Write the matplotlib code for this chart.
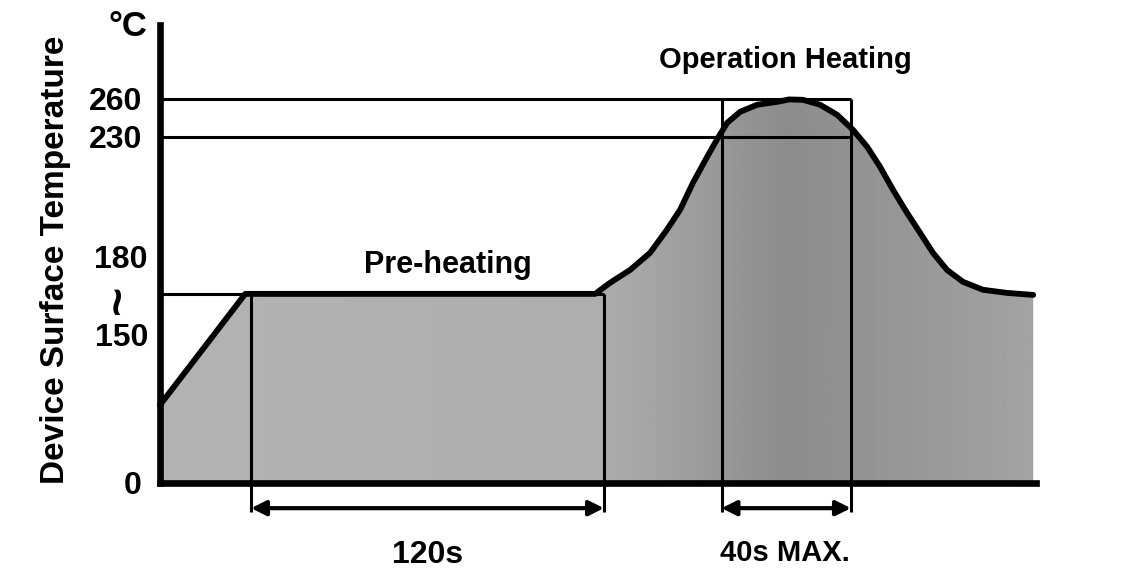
import numpy as np
import matplotlib.pyplot as plt
from matplotlib.scale import FuncScale

# reflow profile (time in s, temperature in degC)
time_s = [0, 29, 148, 153.1, 159.9, 166.7, 172.4, 176.9, 181.3, 186.1, 189.5,
          192.9, 197.3, 203.1, 209.9, 214, 218.7, 224.5, 230.3, 235.7, 240.5,
          244.9, 249.3, 254.1, 258.5, 262.9, 267.7, 273.1, 279.9, 288.1, 297]
temp_c = [68, 165, 165, 169.6, 174.9, 182, 191.5, 199.8, 211, 221.7, 229,
          241, 249.7, 255.3, 257.6, 259.5, 259.2, 255.3, 247.4, 235.5, 225.9,
          217.6, 208.1, 198.5, 190.3, 182, 174.9, 170, 166.7, 165.4, 164.1]

preheat_level = 165
preheat_window = [31, 151]
peak_window = [191, 235]
ref_temps = [230, 260]
tick_labels = ["0", "230", "260"]

# schematic (non-linear) temperature axis of the drawing
knots_t = [-90, 0, 165, 230, 260, 340]
knots_h = [-103.1, 0, 189, 346, 384, 485.3]


def fwd(v):
    return np.interp(v, knots_t, knots_h)


def inv(v):
    return np.interp(v, knots_h, knots_t)


plt.rcParams["font.family"] = ["Liberation Sans", "DejaVu Sans"]
plt.rcParams["font.weight"] = "bold"

fig = plt.figure(figsize=(11.42, 5.83), dpi=100)
ax = fig.add_axes([0, 0, 1, 1])
ax.set_yscale(FuncScale(ax.yaxis, (fwd, inv)))

# shaded area under the profile, a bit darker around the peak
area = ax.fill_between(time_s, temp_c, 0, color="none", lw=0, zorder=1)
xs = np.linspace(0, 298, 300)
shade = np.interp(xs, [0, 150, 214, 298], [0.70, 0.68, 0.55, 0.64])
img = ax.imshow(shade[np.newaxis, :], cmap="gray", vmin=0, vmax=1,
                extent=(0, 298, 0, 262), aspect="auto", zorder=1,
                interpolation="bilinear")
img.set_clip_path(area.get_paths()[0], transform=ax.transData)
ax.set_xlim(-54.4, 334)
ax.set_ylim(-87.3, 338)

ax.plot(time_s, temp_c, color="black", lw=4.2, solid_joinstyle="round",
        solid_capstyle="round", zorder=4)

# reference lines
ax.hlines(ref_temps, 0, peak_window[1], color="black", lw=2.2, zorder=3)
ax.hlines(preheat_level, 0, preheat_window[1], color="black", lw=2.2, zorder=3)
ax.vlines(preheat_window, -25, preheat_level, color="black", lw=2.2, zorder=3)
ax.vlines(peak_window, -25, ref_temps[1], color="black", lw=2.2, zorder=3)

# axes lines
for side in ["top", "right"]:
    ax.spines[side].set_visible(False)
for side in ["left", "bottom"]:
    ax.spines[side].set_position(("data", 0))
    ax.spines[side].set_linewidth(4.8)
    ax.spines[side].set_zorder(5)
ax.spines["left"].set_bounds(0, 318)
ax.spines["bottom"].set_bounds(0, 298)
ax.set_xticks([])
ax.set_yticks([0] + ref_temps, tick_labels)
ax.tick_params(axis="y", length=0, pad=13, labelsize=23)

# dimension arrows
for a, b in [preheat_window, peak_window]:
    ax.annotate("", xy=(a, -22), xytext=(b, -22),
                arrowprops=dict(arrowstyle="<|-|>", color="black", lw=3,
                                mutation_scale=22, shrinkA=0, shrinkB=0))

ax.text(-10.9, 317, "°C", fontsize=25, ha="center", va="center")
ax.text(-4.1, 179, "180", fontsize=23, ha="right", va="center")
ax.text(-4.1, 126.6, "150", fontsize=23, ha="right", va="center")
ax.text(-13.6, 160, "~", fontsize=36, ha="center", va="center", rotation=90,
        rotation_mode="anchor")
ax.text(-35.4, 179, "Device Surface Temperature", fontsize=24, rotation=90,
        ha="center", va="center")
ax.text(98, 177, "Pre-heating", fontsize=22, ha="center", va="center")
ax.text(212.6, 291, "Operation Heating", fontsize=21, ha="center", va="center")
ax.text(91, -63, "120s", fontsize=23, ha="center", va="center")
ax.text(212.6, -61, "40s MAX.", fontsize=21, ha="center", va="center")

fig.savefig("out.png", dpi=100)
